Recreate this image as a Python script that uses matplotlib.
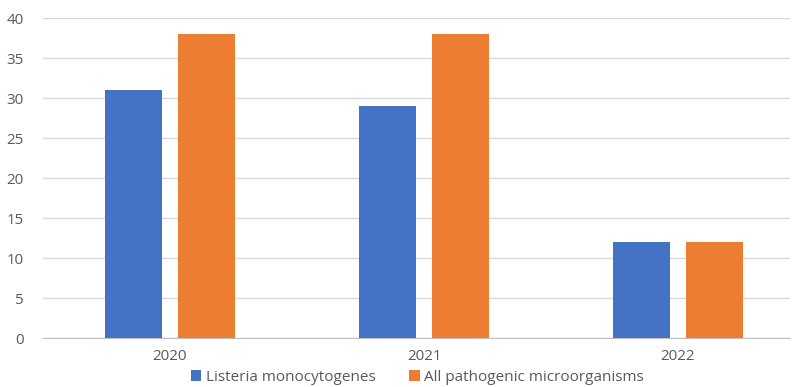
import matplotlib.pyplot as plt
import numpy as np

years = ["2020", "2021", "2022"]
listeria = [31, 29, 12]
all_pathogens = [38, 38, 12]
y_ticks = [0, 5, 10, 15, 20, 25, 30, 35, 40]

plt.rcParams["font.family"] = ["Open Sans", "DejaVu Sans"]

fig = plt.figure(figsize=(7.95, 3.87), dpi=100)
ax = fig.add_axes([43 / 795, 1 - 338 / 387, (790 - 43) / 795, (338 - 18) / 387])

x = np.arange(len(years))
width = 0.224
offset = 0.144
ax.bar(x - offset, listeria, width, color="#4472C4", label="Listeria monocytogenes", zorder=3)
ax.bar(x + offset, all_pathogens, width, color="#ED7D31", label="All pathogenic microorganisms", zorder=3)

ax.set_xlim(-0.5, 2.441)
ax.set_ylim(0, 40)
ax.set_yticks(y_ticks)
ax.set_xticks(x)
ax.set_xticklabels(years)
ax.yaxis.grid(True, color="#D9D9D9", linewidth=1, zorder=0)
ax.tick_params(axis="both", length=0, labelsize=10.8, colors="#595959")
ax.tick_params(axis="x", pad=8)
ax.tick_params(axis="y", pad=14)
for side in ("top", "right", "left"):
    ax.spines[side].set_visible(False)
ax.spines["bottom"].set_color("#BFBFBF")

fig.legend(loc="lower center", bbox_to_anchor=(0.525, -0.03), ncol=2, frameon=False,
           fontsize=11, handlelength=0.7, handleheight=0.7, columnspacing=2.2,
           handletextpad=0.3, labelcolor="#595959")

fig.savefig("out.png", dpi=100)
